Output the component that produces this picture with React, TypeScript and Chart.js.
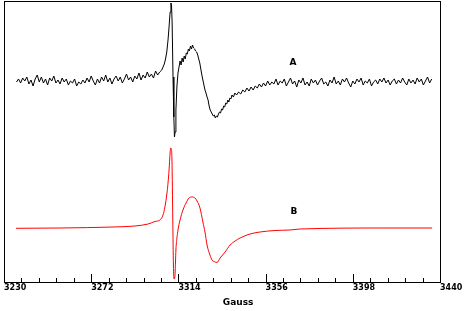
import React, { useEffect, useRef } from "react";
import { Chart, registerables } from "chart.js";

Chart.register(...registerables);

// ---- axis ----
const X_MIN = 3230;
const X_MAX = 3440;
const MAJOR_TICKS = [3230, 3272, 3314, 3356, 3398, 3440];
const MINOR_PER_MAJOR = 5;
const Y_MIN = 0;
const Y_MAX = 281;
const AXIS_TITLE = "Gauss";

// ---- trace A (noisy, black) ----
const A_LEFT_START = 3236; // 1 G steps
const A_LEFT = [
  200, 203, 199, 204, 201, 205, 198, 202, 196, 203,
  207, 200, 205, 199, 203, 197, 204, 201, 206, 199,
  202, 198, 204, 200, 203, 197, 201, 199, 203, 196,
  200, 198, 202, 199, 204, 200, 206, 201, 197, 203,
  199, 205, 201, 207, 200, 204, 198, 203, 206, 201,
  205, 199, 203, 208, 202, 205, 200, 206, 203, 209,
  202, 207, 204, 210, 205, 208, 204, 211, 207, 210,
];
const A_MID_FIELD = [
  3306, 3306.6, 3307.2, 3307.8, 3308.4, 3309.0, 3309.5, 3310.0, 3310.4, 3310.7,
  3311.0, 3311.4, 3311.8, 3312.1, 3312.4, 3312.8, 3313.3, 3313.8, 3314.3, 3314.8,
  3315.3, 3315.8, 3316.3, 3316.8, 3317.3, 3317.8, 3318.3, 3318.8, 3319.3, 3319.8,
  3320.3, 3320.8, 3321.3, 3321.8, 3322.3, 3322.8, 3323.3, 3323.8, 3324.3, 3324.8,
  3325.3, 3325.8, 3326.3, 3326.8, 3327.3, 3327.8, 3328.3, 3328.8, 3329.3, 3329.8,
  3330.3, 3330.8, 3331.3, 3331.8, 3332.3, 3332.8, 3333.3, 3333.8, 3334.3, 3334.8,
  3335.3, 3335.8, 3336.3, 3336.8, 3337.3, 3337.8, 3338.3, 3338.8, 3339.3, 3339.8,
  3340.5, 3341.2,
];
const A_MID = [
  212, 215, 218, 223, 230, 242, 255, 270, 279, 276,
  258, 205, 165, 145, 150, 172, 196, 209, 215, 221,
  217, 224, 220, 226, 223, 229, 228, 233, 231, 236,
  233, 237, 234, 233, 231, 230, 227, 223, 219, 213,
  207, 202, 197, 192, 189, 185, 182, 176, 172, 170,
  168, 166, 167, 164, 166, 165, 168, 170, 169, 173,
  172, 176, 175, 179, 178, 182, 180, 184, 183, 187,
  185, 189,
];
const A_RIGHT_START = 3342; // 1 G steps
const A_RIGHT = [
  187, 190, 188, 192, 190, 194, 191, 195, 192, 196,
  194, 198, 195, 199, 196, 201, 197, 200, 198, 203,
  197, 201, 199, 203, 196, 200, 204, 198, 201, 195,
  202, 199, 204, 197, 200, 196, 203, 199, 202, 197,
  201, 204, 198, 200, 196, 202, 199, 205, 198, 201,
  197, 203, 200, 204, 199, 195, 201, 198, 203, 200,
  204, 197, 201, 199, 203, 196, 200, 202, 198, 203,
  200, 204, 199, 202, 197, 201, 203, 198, 202, 199,
  204, 200, 197, 203, 199, 202, 198, 204, 200, 203,
  197, 201, 205, 199, 203,
];

// ---- trace B (simulation, red) ----
const B_FIELD = [
  3235.8, 3257, 3282.5, 3293.1, 3299.4, 3302.7, 3305.1, 3306.6, 3307.5, 3308.5,
  3309.0, 3309.5, 3310.0, 3310.3, 3310.6, 3310.9, 3311.3, 3311.6, 3311.9, 3312.3,
  3312.6, 3312.8, 3313.3, 3313.8, 3314.8, 3316.2, 3317.7, 3319.1, 3320.6, 3322.0,
  3323.0, 3324.4, 3325.8, 3326.8, 3327.8, 3329.2, 3330.2, 3331.7, 3332.6, 3334.1,
  3336.5, 3338.9, 3341.3, 3343.7, 3348.5, 3353.3, 3360.5, 3367.7, 3372.6, 3413.0,
  3436.2,
];
const B_SIGNAL = [
  53.7, 54, 55, 56, 58, 60.5, 62, 67, 75, 89,
  99, 112, 129, 134, 133, 122, 62, 17, 3, 5,
  20, 32, 44, 52, 62, 72, 79, 84, 85, 84,
  81, 74, 60, 50, 37, 27, 22, 20, 19.5, 24,
  30, 37, 41, 44, 48, 50, 51.5, 52, 53, 54,
  54,
];

// ---- trace labels ----
const TRACE_NAMES = ["A", "B"];
const TRACE_LABEL_FIELD = [3369.2, 3369.7];
const TRACE_LABEL_VALUE = [217, 68];

function buildA() {
  const pts: { x: number; y: number }[] = [];
  A_LEFT.forEach((v, i) => pts.push({ x: A_LEFT_START + i, y: v }));
  A_MID.forEach((v, i) => pts.push({ x: A_MID_FIELD[i], y: v }));
  A_RIGHT.forEach((v, i) => pts.push({ x: A_RIGHT_START + i, y: v }));
  return pts;
}

function buildB() {
  return B_SIGNAL.map((v, i) => ({ x: B_FIELD[i], y: v }));
}

const isMajor = (v: number) => MAJOR_TICKS.some((m) => Math.abs(m - v) < 1e-6);

const decorPlugin = {
  id: "decor",
  afterDatasetsDraw(chart: any) {
    const { ctx, chartArea: a, scales } = chart;
    const xs = scales.x;
    const ys = scales.y;
    ctx.save();
    ctx.strokeStyle = "#000";
    ctx.lineWidth = 1;
    // inward tick marks
    ctx.beginPath();
    xs.ticks.forEach((t: any) => {
      const px = Math.round(xs.getPixelForValue(t.value)) + 0.5;
      const len = isMajor(t.value) ? 8 : 4;
      ctx.moveTo(px, Math.round(a.bottom));
      ctx.lineTo(px, Math.round(a.bottom) - len);
    });
    ctx.stroke();
    // frame
    ctx.strokeRect(
      Math.round(a.left) + 0.5,
      Math.round(a.top) + 0.5,
      Math.round(a.right - a.left),
      Math.round(a.bottom - a.top)
    );
    // axis title
    ctx.fillStyle = "#000";
    ctx.font = 'bold 9px "DejaVu Sans"';
    ctx.textAlign = "center";
    ctx.textBaseline = "alphabetic";
    ctx.fillText(AXIS_TITLE, a.left + (a.right - a.left) * 0.537, a.bottom + 23);
    // trace labels
    TRACE_NAMES.forEach((n, i) => {
      ctx.fillText(
        n,
        xs.getPixelForValue(TRACE_LABEL_FIELD[i]),
        ys.getPixelForValue(TRACE_LABEL_VALUE[i])
      );
    });
    ctx.restore();
  },
};

export default function App() {
  const ref = useRef<HTMLCanvasElement>(null);
  useEffect(() => {
    document.body.style.margin = "0";
    const chart = new Chart(ref.current as HTMLCanvasElement, {
      type: "line",
      data: {
        datasets: [
          {
            label: "A",
            data: buildA(),
            borderColor: "#000000",
            borderWidth: 1,
            pointRadius: 0,
            tension: 0,
            fill: false,
          },
          {
            label: "B",
            data: buildB(),
            borderColor: "#ff0000",
            borderWidth: 1,
            pointRadius: 0,
            cubicInterpolationMode: "monotone",
            fill: false,
          },
        ],
      },
      options: {
        animation: false,
        responsive: false,
        parsing: true,
        layout: { padding: { left: 4, top: 1, right: 27, bottom: 0 } },
        plugins: { legend: { display: false }, tooltip: { enabled: false } },
        scales: {
          x: {
            type: "linear",
            min: X_MIN,
            max: X_MAX,
            grid: { display: false, drawTicks: false },
            border: { display: false },
            afterBuildTicks: (scale: any) => {
              const ticks: { value: number }[] = [];
              for (let i = 0; i < MAJOR_TICKS.length; i++) {
                ticks.push({ value: MAJOR_TICKS[i] });
                if (i < MAJOR_TICKS.length - 1) {
                  const step = (MAJOR_TICKS[i + 1] - MAJOR_TICKS[i]) / MINOR_PER_MAJOR;
                  for (let k = 1; k < MINOR_PER_MAJOR; k++) {
                    ticks.push({ value: MAJOR_TICKS[i] + k * step });
                  }
                }
              }
              scale.ticks = ticks;
            },
            afterFit: (scale: any) => {
              scale.height = 29;
            },
            ticks: {
              autoSkip: false,
              maxRotation: 0,
              minRotation: 0,
              align: "start",
              padding: 1,
              color: "#000",
              font: { family: "DejaVu Sans", size: 8, weight: "bold" },
              callback: (v: any) => (isMajor(Number(v)) ? String(Math.round(Number(v))) : ""),
            },
          },
          y: {
            type: "linear",
            display: false,
            min: Y_MIN,
            max: Y_MAX,
          },
        },
      } as any,
      plugins: [decorPlugin],
    });
    return () => chart.destroy();
  }, []);
  return (
    <div style={{ width: 467, height: 311 }}>
      <canvas ref={ref} width={467} height={311} style={{ display: "block" }} />
    </div>
  );
}
